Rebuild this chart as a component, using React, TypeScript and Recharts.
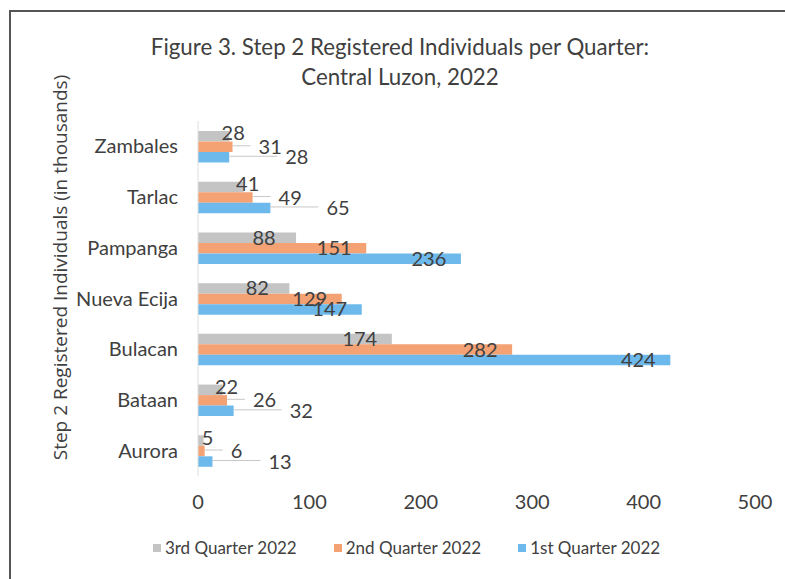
import React from 'react';
import { BarChart, Bar, XAxis, YAxis, CartesianGrid, Legend, LabelList, Label } from 'recharts';

const provinces = ['Zambales', 'Tarlac', 'Pampanga', 'Nueva Ecija', 'Bulacan', 'Bataan', 'Aurora'];
const q3 = [28, 41, 88, 82, 174, 22, 5];
const q2 = [31, 49, 151, 129, 282, 26, 6];
const q1 = [28, 65, 236, 147, 424, 32, 13];
const xTicks = [0, 100, 200, 300, 400, 500];

const data = provinces.map((name, i) => ({ name, q3: q3[i], q2: q2[i], q1: q1[i] }));

const FONT = 'Lato, "Open Sans", sans-serif';
const TEXT = '#404040';

// Excel pushed the short-bar labels outward, each series a bit further
const pushOut = [4, 26, 56];

const makeLabel = (series: number) => (props: any) => {
  const { x, y, width, height, value } = props;
  const end = x + width;
  const cy = y + height / 2;
  if (width > 80) {
    return (
      <text x={end - 32} y={cy + 2} textAnchor="middle" dominantBaseline="middle" fontSize={20} fill={TEXT} fontFamily={FONT}>
        {value}
      </text>
    );
  }
  const lx = end + pushOut[series];
  return (
    <g>
      {series > 0 && (
        <line x1={end} y1={cy - 1} x2={lx - 8} y2={cy - 1} stroke="#c8c8c8" strokeWidth={1} />
      )}
      <text x={lx} y={cy + (series === 0 ? -1 : 2)} textAnchor={series > 0 ? 'start' : 'middle'} dominantBaseline="middle" fontSize={20} fill={TEXT} fontFamily={FONT}>
        {value}
      </text>
    </g>
  );
};

const renderYLabel = (props: any) => {
  const { viewBox } = props;
  const cx = viewBox.x + 62;
  const cy = viewBox.y + viewBox.height / 2 - 31;
  return (
    <text x={cx} y={cy} transform={`rotate(-90, ${cx}, ${cy})`} textAnchor="middle" dominantBaseline="middle" fontSize={19} fill={TEXT} fontFamily='"Open Sans", sans-serif'>
      Step 2 Registered Individuals (in thousands)
    </text>
  );
};

const renderLegend = (props: any) => {
  const payload = [...(props.payload || [])].reverse();
  return (
    <div style={{ display: 'flex', justifyContent: 'center', gap: 37, fontFamily: FONT, fontSize: 17, color: TEXT, paddingLeft: 58 }}>
      {payload.map((p: any) => (
        <div key={p.value} style={{ display: 'flex', alignItems: 'center' }}>
          <span style={{ width: 8, height: 8, background: p.color, marginRight: 4, display: 'inline-block' }} />
          <span>{p.value}</span>
        </div>
      ))}
    </div>
  );
};

const App: React.FC = () => {
  return (
    <div style={{ position: 'absolute', left: 0, top: 0, width: 785, height: 579, overflow: 'hidden', background: '#fff' }}>
      <div style={{ position: 'absolute', left: 9, top: 10, width: 820, height: 620, borderLeft: '2px solid #555', borderTop: '2px solid #555' }} />
      <div style={{ position: 'absolute', left: 0, top: 32, width: 800, textAlign: 'center', fontFamily: FONT, fontSize: 22.3, lineHeight: '30px', color: TEXT }}>
        Figure 3. Step 2 Registered Individuals per Quarter:
        <br />
        Central Luzon, 2022
      </div>
      <BarChart
        width={785}
        height={579}
        data={data}
        layout="vertical"
        margin={{ top: 121, right: 30, left: 0, bottom: 42 }}
        barGap={0}
        barSize={10.5}
      >
        <CartesianGrid horizontal={false} vertical={false} />
        <XAxis
          type="number"
          domain={[0, 500]}
          ticks={xTicks}
          axisLine={false}
          tickLine={false}
          tickMargin={13}
          height={40}
          tick={{ fontSize: 20, fill: TEXT, fontFamily: FONT }}
        />
        <YAxis
          type="category"
          dataKey="name"
          width={198}
          axisLine={{ stroke: '#dedede' }}
          tickLine={false}
          tickMargin={14}
          tick={{ fontSize: 20, fill: TEXT, fontFamily: FONT }}
        >
          <Label content={renderYLabel} />
        </YAxis>
        <Legend content={renderLegend} verticalAlign="bottom" wrapperStyle={{ top: 537, bottom: 'auto' }} />
        <Bar dataKey="q3" name="3rd Quarter 2022" fill="#c4c4c4" isAnimationActive={false}>
          <LabelList dataKey="q3" content={makeLabel(0)} />
        </Bar>
        <Bar dataKey="q2" name="2nd Quarter 2022" fill="#f4a173" isAnimationActive={false}>
          <LabelList dataKey="q2" content={makeLabel(1)} />
        </Bar>
        <Bar dataKey="q1" name="1st Quarter 2022" fill="#6db9ec" isAnimationActive={false}>
          <LabelList dataKey="q1" content={makeLabel(2)} />
        </Bar>
      </BarChart>
    </div>
  );
};

export default App;
